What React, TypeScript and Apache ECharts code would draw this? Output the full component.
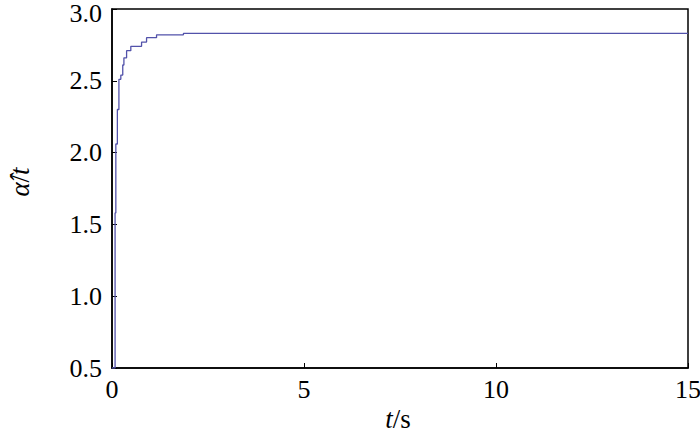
import React, { useEffect, useRef } from "react";
import * as echarts from "echarts";

const tValues = [0, 0.08, 0.1, 0.14, 0.18, 0.23, 0.28, 0.31, 0.38, 0.49, 0.77, 0.9, 1.16, 1.86, 15];
const aValues = [0.5, 1.58, 2.06, 2.3, 2.51, 2.54, 2.61, 2.66, 2.71, 2.74, 2.77, 2.8, 2.82, 2.83, 2.83];
const xTicks = [0, 5, 10, 15];
const yTicks = [0.5, 1.0, 1.5, 2.0, 2.5, 3.0];

const FONT = "Times New Roman, Liberation Serif, serif";

export default function App() {
  const ref = useRef<HTMLDivElement>(null);
  useEffect(() => {
    document.body.style.margin = "0";
    if (!ref.current) return;
    const chart = echarts.init(ref.current, null, { renderer: "svg" });
    const data = tValues.map((t, i) => [t, aValues[i]]);
    const rich = {
      i: { fontFamily: FONT, fontSize: 27, fontStyle: "italic", fill: "#000" },
      n: { fontFamily: FONT, fontSize: 27, fill: "#000" },
    };
    chart.setOption({
      animation: false,
      backgroundColor: "#fff",
      textStyle: { fontFamily: FONT },
      grid: {
        left: 112,
        right: 12,
        top: 9,
        bottom: 66,
        outerBoundsMode: "none",
        containLabel: false,
        show: true,
        borderColor: "#000",
        borderWidth: 1.5,
        backgroundColor: "transparent",
      },
      xAxis: {
        type: "value",
        min: xTicks[0],
        max: xTicks[xTicks.length - 1],
        interval: 5,
        axisLine: { show: true, lineStyle: { color: "#000", width: 1.5 } },
        axisTick: { show: true, inside: true, length: 5, lineStyle: { color: "#000" } },
        splitLine: { show: false },
        axisLabel: {
          color: "#000",
          fontFamily: FONT,
          fontSize: 26,
          margin: 8,
          formatter: (v: number) => String(v),
        },
      },
      yAxis: {
        type: "value",
        min: yTicks[0],
        max: yTicks[yTicks.length - 1],
        interval: 0.5,
        axisLine: { show: true, lineStyle: { color: "#000", width: 1.5 } },
        axisTick: { show: true, inside: true, length: 5, lineStyle: { color: "#000" } },
        splitLine: { show: false },
        axisLabel: {
          color: "#000",
          fontFamily: FONT,
          fontSize: 26,
          margin: 10,
          formatter: (v: number) =>
            v === yTicks[yTicks.length - 1] ? "{top|" + v.toFixed(1) + "}" : v.toFixed(1),
          rich: {
            top: { fontFamily: FONT, fontSize: 26, color: "#000", padding: [9, 0, 0, 0] },
          },
        },
      },
      graphic: [
        {
          type: "text",
          x: 20,
          y: 182,
          rotation: Math.PI / 2,
          style: {
            text: "{i|α\u0302}{n|/}{i|t}",
            align: "center",
            verticalAlign: "middle",
            rich,
          },
        },
        {
          type: "text",
          x: 398,
          y: 419,
          style: {
            text: "{i|t}{n|/s}",
            align: "center",
            verticalAlign: "middle",
            rich,
          },
        },
      ],
      series: [
        {
          type: "line",
          data,
          step: "end",
          showSymbol: false,
          symbol: "none",
          lineStyle: { color: "#5252aa", width: 1.3 },
        },
      ],
    });
    return () => chart.dispose();
  }, []);
  return <div ref={ref} style={{ width: 700, height: 434 }} />;
}
